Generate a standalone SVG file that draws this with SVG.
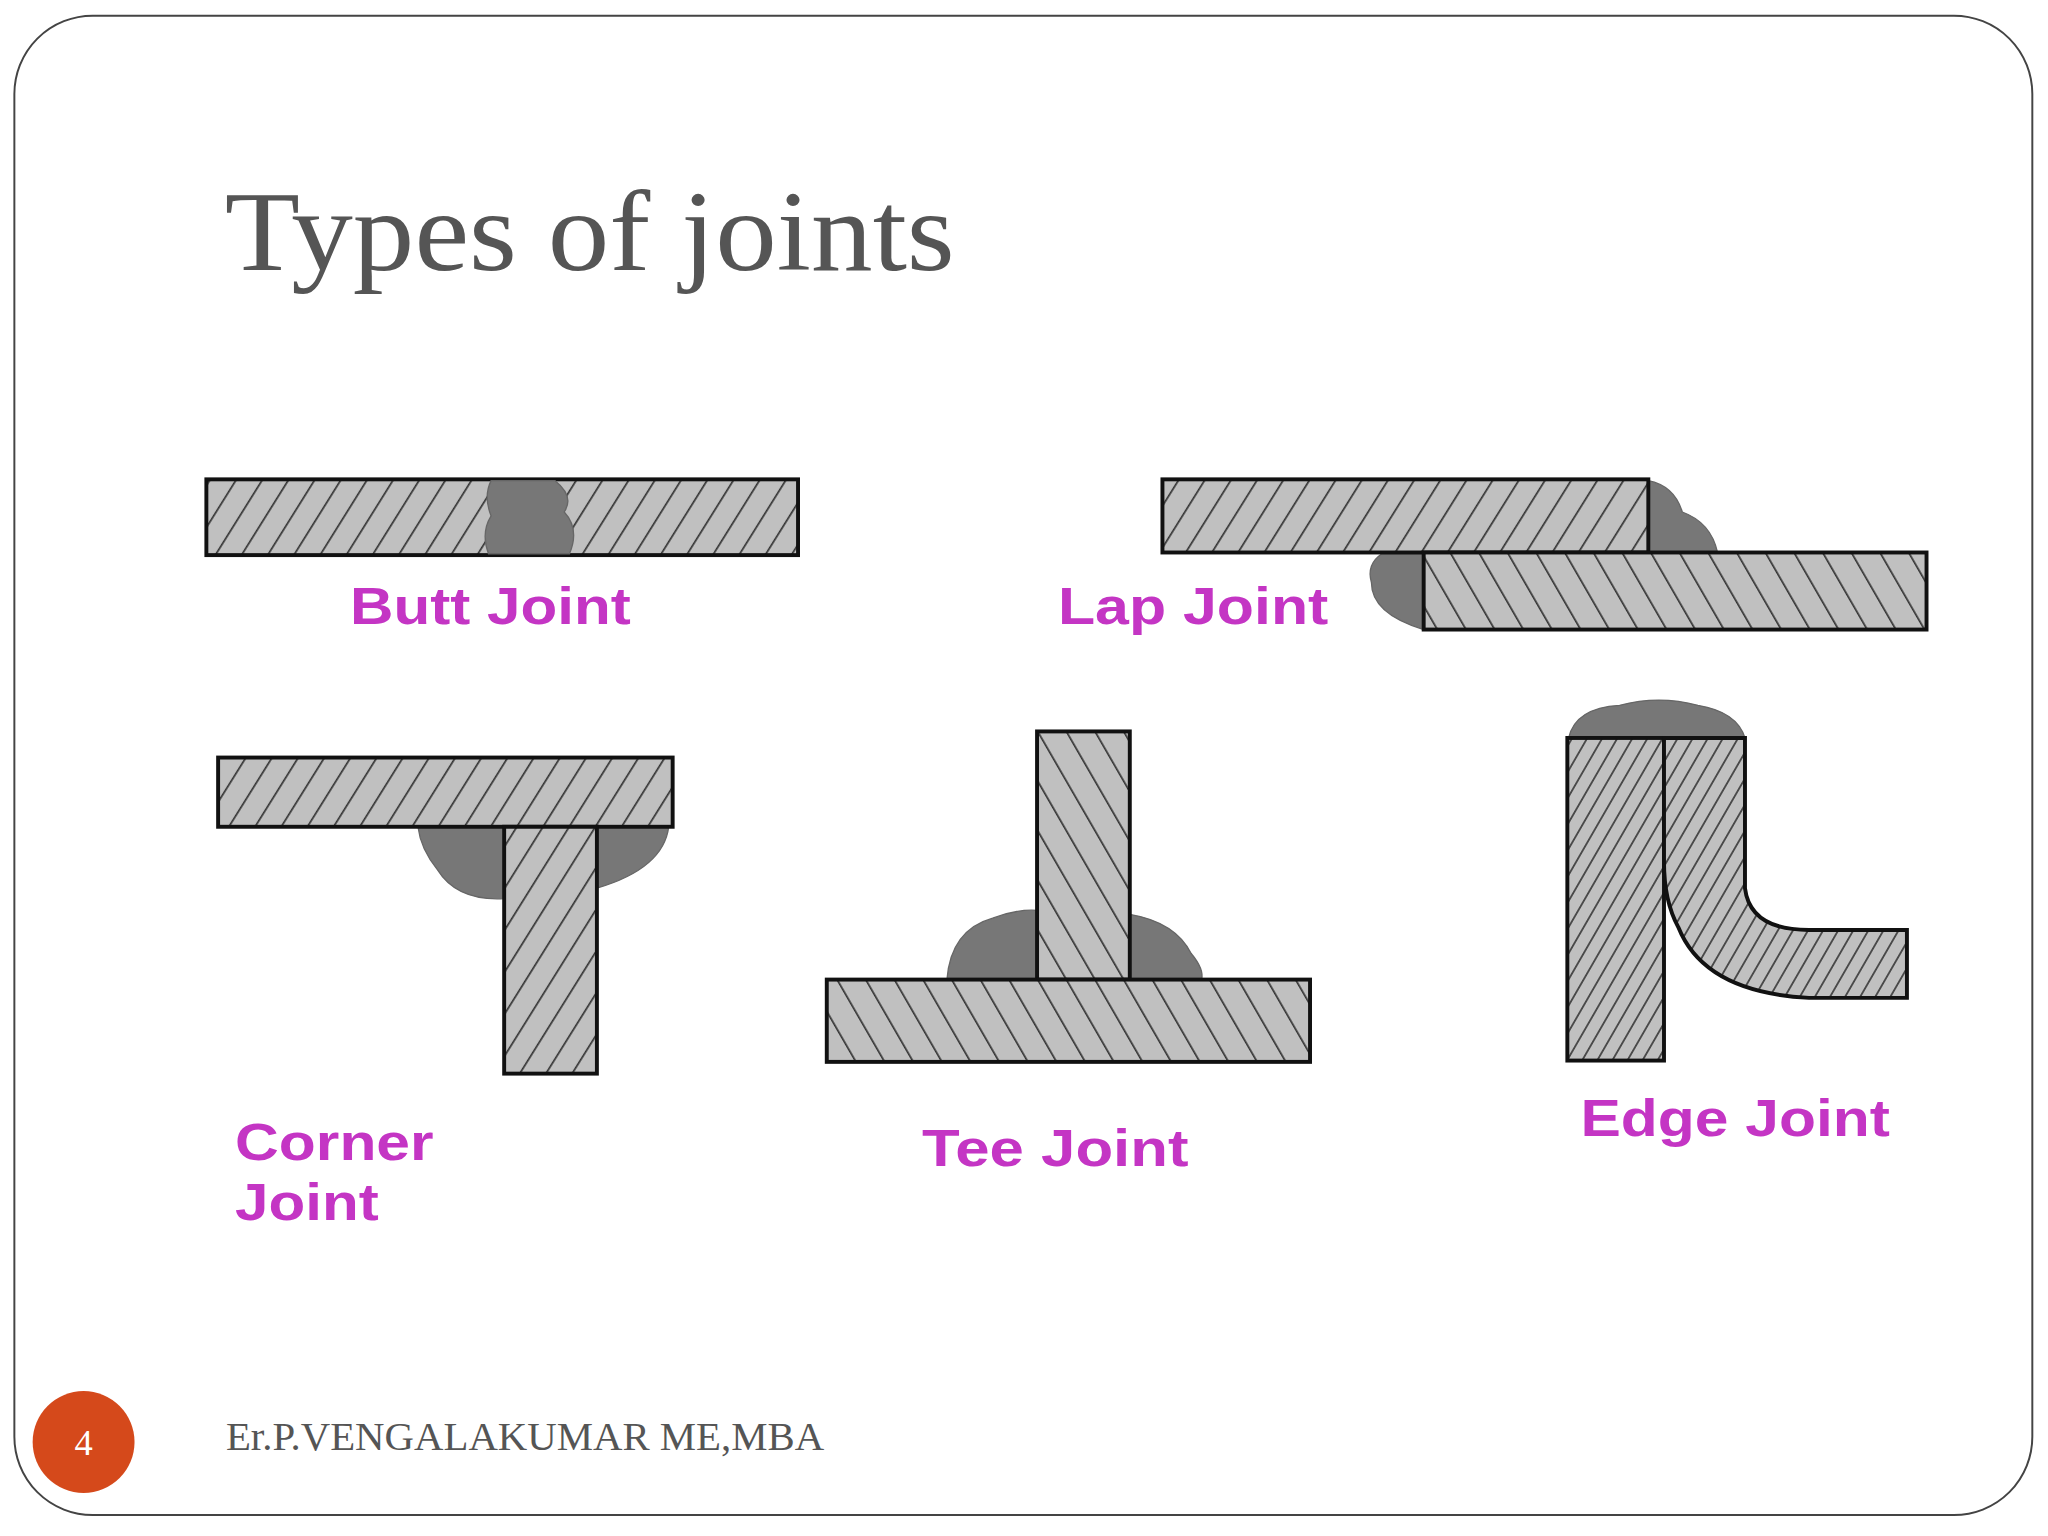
<svg xmlns="http://www.w3.org/2000/svg" width="2048" height="1536" viewBox="0 0 2048 1536">
<style>
.pl{stroke:#111;stroke-width:3}
.wd{fill:#777;stroke:#666;stroke-width:1}
.lb{font-family:"Liberation Sans",Arial,sans-serif;font-weight:bold;font-size:40px;fill:#c435c4}
.sf{font-family:"Liberation Serif","Times New Roman",serif;fill:#555}
</style>
<defs>
<pattern id="hf" patternUnits="userSpaceOnUse" width="17" height="17" patternTransform="rotate(32)">
<rect width="17" height="17" fill="#c0c0c0"/><line x1="8" y1="0" x2="8" y2="17" stroke="#333" stroke-width="1.3"/></pattern>
<pattern id="hb" patternUnits="userSpaceOnUse" width="19" height="19" patternTransform="rotate(-30)">
<rect width="19" height="19" fill="#c0c0c0"/><line x1="9" y1="0" x2="9" y2="19" stroke="#333" stroke-width="1.3"/></pattern>
<pattern id="hf2" patternUnits="userSpaceOnUse" width="10" height="10" patternTransform="rotate(30)">
<rect width="10" height="10" fill="#c0c0c0"/><line x1="5" y1="0" x2="5" y2="10" stroke="#333" stroke-width="1.2"/></pattern>
</defs>
<rect width="2048" height="1536" fill="#fff"/>
<g transform="scale(1.30612)">
<rect x="11" y="12" width="1545" height="1148" rx="60" fill="none" stroke="#444" stroke-width="1.5"/>
<text class="sf" x="172" y="207" font-size="88" textLength="559" lengthAdjust="spacingAndGlyphs">Types of joints</text>
<g id="butt">
<rect class="pl" x="158" y="367" width="453" height="58" fill="url(#hf)"/>
<path class="wd" d="M376,368 L425,368 Q440,380 432,392 Q444,405 436,424 L374,424 Q368,408 376,395 Q370,380 376,368Z"/>
<text class="lb" x="268" y="478" textLength="215" lengthAdjust="spacingAndGlyphs">Butt Joint</text>
</g>
<g id="lap">
<path class="wd" d="M1262,368 Q1282,372 1288,392 Q1310,400 1315,423 L1262,423Z"/>
<path class="wd" d="M1090,424 L1058,424 Q1046,432 1050,446 Q1050,470 1090,482Z"/>
<rect class="pl" x="890" y="367" width="372" height="56" fill="url(#hf)"/>
<rect class="pl" x="1090" y="423" width="385" height="59" fill="url(#hb)"/>
<text class="lb" x="810" y="478" textLength="207" lengthAdjust="spacingAndGlyphs">Lap Joint</text>
</g>
<g id="corner">
<path class="wd" d="M320,633 L386,633 L386,688 Q350,690 335,666 Q322,650 320,633Z"/>
<path class="wd" d="M457,633 L512,633 Q508,665 457,680Z"/>
<rect class="pl" x="167" y="580" width="348" height="53" fill="url(#hf)"/>
<rect class="pl" x="386" y="633" width="71" height="189" fill="url(#hf)"/>
<text class="lb" x="180" y="888" textLength="152" lengthAdjust="spacingAndGlyphs">Corner</text>
<text class="lb" x="180" y="934" textLength="110" lengthAdjust="spacingAndGlyphs">Joint</text>
</g>
<g id="tee">
<path class="wd" d="M725,750 Q728,712 760,703 Q778,696 794,697 L794,750Z"/>
<path class="wd" d="M865,700 Q900,706 912,730 Q922,742 920,750 L865,750Z"/>
<rect class="pl" x="794" y="560" width="71" height="190" fill="url(#hb)"/>
<rect class="pl" x="633" y="750" width="370" height="63" fill="url(#hb)"/>
<text class="lb" x="706" y="893" textLength="204" lengthAdjust="spacingAndGlyphs">Tee Joint</text>
</g>
<g id="edge">
<path class="wd" d="M1201,565 Q1206,542 1240,540 Q1270,532 1300,540 Q1330,545 1336,565Z"/>
<rect class="pl" x="1200" y="565" width="74" height="247" fill="url(#hf2)"/>
<path class="pl" fill="url(#hf2)" d="M1274,565 L1336,565 L1336,680 Q1340,712 1385,712 L1460,712 L1460,764 L1385,764 Q1305,760 1285,710 Q1274,690 1274,660Z"/>
<text class="lb" x="1210" y="870" textLength="237" lengthAdjust="spacingAndGlyphs">Edge Joint</text>
</g>
<circle cx="64" cy="1104" r="39" fill="#d5491b"/>
<text x="64" y="1114" text-anchor="middle" font-family="Liberation Serif,serif" font-size="28" fill="#fff">4</text>
<text class="sf" x="173" y="1110" font-size="30" textLength="458" lengthAdjust="spacingAndGlyphs">Er.P.VENGALAKUMAR ME,MBA</text>
</g>
</svg>
